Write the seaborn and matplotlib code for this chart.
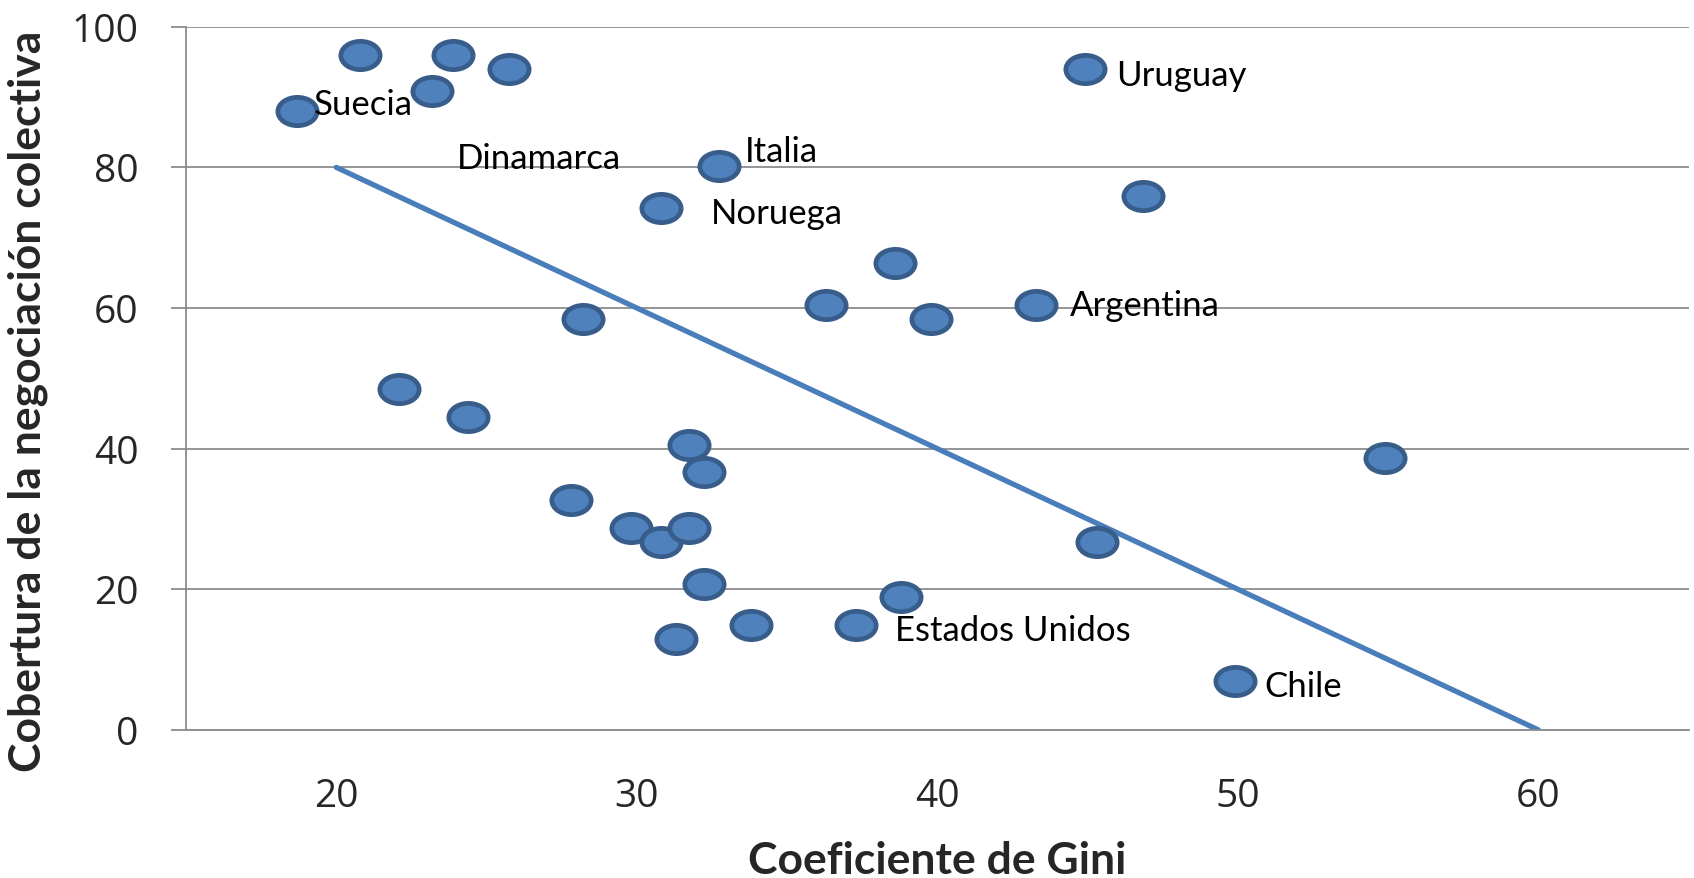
import numpy as np
import pandas as pd
import matplotlib
matplotlib.use("Agg")
import matplotlib.pyplot as plt
from matplotlib.path import Path
import seaborn as sns

gini = [18.7, 20.8, 23.9, 23.2, 25.75, 44.9, 32.75, 30.8, 46.85, 38.6,
        36.3, 39.8, 43.3, 28.2, 22.1, 24.4, 31.75, 32.25, 54.9, 27.8,
        29.8, 30.8, 31.75, 45.3, 32.25, 38.8, 33.8, 37.3, 31.3, 49.9]
cobertura = [88.0, 96.0, 96.0, 90.9, 94.0, 94.0, 80.2, 74.2, 75.9, 66.4,
             60.4, 58.4, 60.4, 58.4, 48.5, 44.5, 40.5, 36.7, 38.7, 32.7,
             28.7, 26.7, 28.7, 26.7, 20.7, 18.9, 14.9, 14.9, 12.9, 6.9]

label_names = ["Suecia", "Dinamarca", "Italia", "Noruega", "Uruguay",
               "Argentina", "Estados Unidos", "Chile"]
label_x = [19.25, 24.0, 33.6, 32.45, 45.95, 44.4, 38.6, 50.9]
label_y = [88.9, 81.3, 82.2, 73.4, 93.1, 60.4, 14.1, 6.2]

trend_x = [20, 60]
trend_y = [80, 0]

x_ticks = [20, 30, 40, 50, 60]
y_ticks = [0, 20, 40, 60, 80, 100]

sns.set_theme(style="white")
plt.rcParams['font.family'] = ['Lato', 'DejaVu Sans']

fig = plt.figure(figsize=(16.94, 8.785), dpi=100)
ax = fig.add_axes([0.1098, 0.1686, 0.887, 0.8004])

circ = Path.unit_circle()
ellipse = Path(circ.vertices * np.array([1.0, 0.72]), circ.codes)

df = pd.DataFrame({"gini": gini, "cob": cobertura})
tr = pd.DataFrame({"x": trend_x, "y": trend_y})

sns.lineplot(data=tr, x="x", y="y", ax=ax, color="#4a7ebb", linewidth=3.8, zorder=2)
sns.scatterplot(data=df, x="gini", y="cob", ax=ax, marker=ellipse, s=800,
                color="#4f81bd", edgecolor="#385d8a", linewidth=3.4, zorder=3)

for name, lx, ly in zip(label_names, label_x, label_y):
    ax.text(lx, ly, name, fontsize=25, ha="left", va="center", color="black", zorder=4)

ax.set_xlim(15, 65)
ax.set_ylim(0, 100)
ax.set_xticks(x_ticks)
ax.set_yticks(y_ticks)
ax.yaxis.grid(True, color="#8c8c8c", linewidth=1.3)
ax.xaxis.grid(False)
ax.set_axisbelow(True)
for s in ["top", "right"]:
    ax.spines[s].set_visible(False)
for s in ["left", "bottom"]:
    ax.spines[s].set_color("#8c8c8c")
    ax.spines[s].set_linewidth(1.3)
ax.tick_params(axis="y", which="major", length=11, width=1.3, color="#8c8c8c",
               direction="out", left=True, labelsize=28, pad=23)
ax.tick_params(axis="x", which="major", length=0, labelsize=28, pad=34)
for lab in ax.get_xticklabels() + ax.get_yticklabels():
    lab.set_fontfamily(['Open Sans', 'DejaVu Sans'])
    lab.set_fontsize(28)

ax.set_xlabel("Coeficiente de Gini", fontsize=32, fontweight="bold", labelpad=18)
ax.set_ylabel("Cobertura de la negociación colectiva", fontsize=32, fontweight="bold")
ax.yaxis.set_label_coords(-0.092, 0.468)

fig.savefig("out.png", dpi=100)
